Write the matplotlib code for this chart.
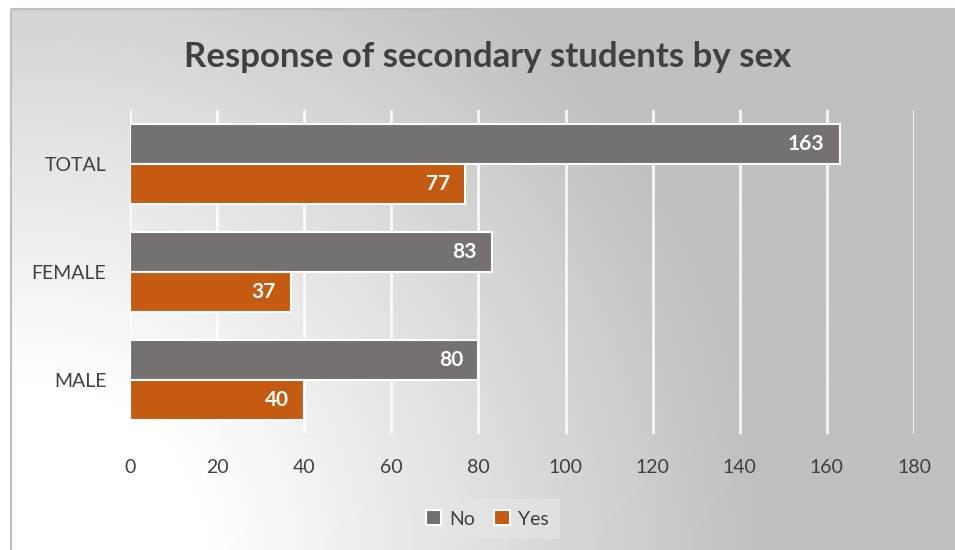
import matplotlib.pyplot as plt
import numpy as np
from matplotlib.colors import LinearSegmentedColormap
from matplotlib.patches import Rectangle

# Data (bottom to top, as drawn)
categories = ['MALE', 'FEMALE', 'TOTAL']
no_values = [80, 83, 163]
yes_values = [40, 37, 77]
x_ticks = [0, 20, 40, 60, 80, 100, 120, 140, 160, 180]

plt.rcParams['font.family'] = ['Lato', 'DejaVu Sans']

W, H = 955, 550
fig = plt.figure(figsize=(W / 100, H / 100), dpi=100)
fig.patch.set_facecolor('white')

# Background: radial gradient from the lower-left corner of the chart area
bg = fig.add_axes([0, 0, 1, 1], zorder=0)
bg.set_xlim(0, W)
bg.set_ylim(H, 0)
bg.axis('off')
xx, yy = np.meshgrid(np.arange(W), np.arange(H))
r = np.hypot(xx - 20, yy - 560)
t = np.clip((r - 180) / 560, 0, 1)
grey = LinearSegmentedColormap.from_list('g', ['#ffffff', '#c0c0c0'])
bg.imshow(t, cmap=grey, vmin=0, vmax=1, extent=(11, W, H, 9), aspect='auto',
          interpolation='bilinear')
bg.add_patch(Rectangle((11, 9), W, H, fill=False, edgecolor='#bfbfbf', lw=1.5))

# Main plot
ax = fig.add_axes([130 / W, 1 - 434 / H, 784 / W, 324 / H], zorder=1)
ax.patch.set_alpha(0)

y = np.arange(len(categories))
h = 0.37
bars_no = ax.barh(y + h / 2, no_values, height=h, color='#767171',
                  edgecolor='white', linewidth=1.5, label='No', zorder=3)
bars_yes = ax.barh(y - h / 2, yes_values, height=h, color='#C55A11',
                   edgecolor='white', linewidth=1.5, label='Yes', zorder=3)

# value labels inside the bar end
for bars in (bars_no, bars_yes):
    for b in bars:
        w = b.get_width()
        ax.annotate(f'{w:g}', (w, b.get_y() + b.get_height() / 2),
                    xytext=(-11, 0), textcoords='offset points',
                    ha='right', va='center', color='white', fontsize=15,
                    fontweight='bold', zorder=4)

ax.set_xlim(0, 180)
ax.set_ylim(-0.5, len(categories) - 0.5)
ax.set_xticks(x_ticks)
ax.set_yticks(y)
ax.set_yticklabels(categories)
ax.tick_params(axis='both', length=0, labelsize=14, colors='#404040')
ax.tick_params(axis='y', pad=17)
ax.tick_params(axis='x', pad=18)
ax.grid(axis='x', color='white', linewidth=2, alpha=0.85, zorder=0)
ax.set_axisbelow(True)
for s in ax.spines.values():
    s.set_visible(False)

fig.text(488 / W, 1 - 57 / H, 'Response of secondary students by sex',
         ha='center', va='center', fontsize=25, fontweight='bold',
         color='#404040')

leg = fig.legend(loc='center', bbox_to_anchor=(487 / W, 1 - 519 / H),
                 ncol=2, frameon=True, fontsize=14, handlelength=0.8,
                 handleheight=0.8, handletextpad=0.4, columnspacing=1.0,
                 borderpad=0.6)
leg.get_frame().set_facecolor('#e6e6e6')
leg.get_frame().set_alpha(0.6)
leg.get_frame().set_edgecolor('none')
leg.get_frame().set_boxstyle('square', pad=0)
for txt in leg.get_texts():
    txt.set_color('#404040')

fig.savefig('out.png', dpi=100)
